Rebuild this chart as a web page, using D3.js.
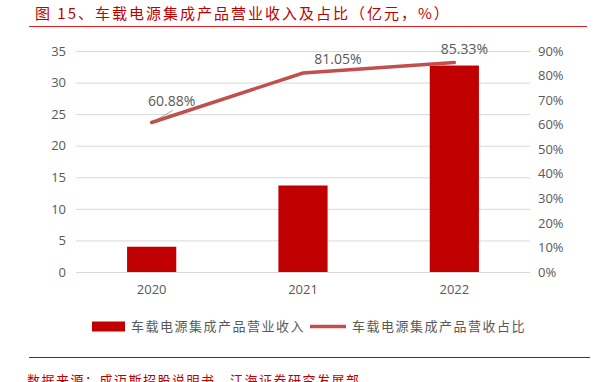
<!DOCTYPE html>
<html>
<head>
<meta charset="utf-8">
<script src="https://cdn.jsdelivr.net/npm/d3@7"></script>
<style>
  body { margin: 0; background: #fff; }
  svg { display: block; font-family: "Noto Sans CJK SC", "Noto Sans", sans-serif; }
</style>
</head>
<body>
<div id="chart"></div>
<script>
const years = ['2020', '2021', '2022'];
const revenue = [4.0, 13.7, 32.7];          // 亿元
const share = [60.88, 81.05, 85.33];        // %
const leftTicks = [0, 5, 10, 15, 20, 25, 30, 35];
const rightTicks = [0, 10, 20, 30, 40, 50, 60, 70, 80, 90];

const width = 594, height = 382;
const margin = { top: 51, right: 64, bottom: 110, left: 76 };
const innerW = width - margin.left - margin.right;
const innerH = height - margin.top - margin.bottom;
const red = '#c00000';
const lineRed = '#c0504d';
const textGray = '#595959';

const svg = d3.select('#chart').append('svg')
  .attr('width', width).attr('height', height);

// title
svg.append('text')
  .attr('x', 35).attr('y', 19)
  .attr('fill', red).attr('font-size', 15).attr('letter-spacing', 2)
  .text('图 15、车载电源集成产品营业收入及占比（亿元，%）');
svg.append('line')
  .attr('x1', 29).attr('x2', 587).attr('y1', 26.5).attr('y2', 26.5)
  .attr('stroke', '#e02020').attr('stroke-width', 1);

const g = svg.append('g').attr('transform', `translate(${margin.left},${margin.top})`);

const x = d3.scaleBand().domain(years).range([0, innerW]).paddingInner(0.675).paddingOuter(0.3375);
const y = d3.scaleLinear().domain([0, 35]).range([innerH, 0]);
const y2 = d3.scaleLinear().domain([0, 90]).range([innerH, 0]);

// gridlines
g.append('g')
  .selectAll('line').data(leftTicks).join('line')
  .attr('x1', 0).attr('x2', innerW)
  .attr('y1', d => y(d) + 0.5).attr('y2', d => y(d) + 0.5)
  .attr('stroke', '#d9d9d9').attr('stroke-width', 1);

// left axis
const yAxisG = g.append('g').attr('transform', 'translate(-10,0)')
  .call(d3.axisLeft(y).tickValues(leftTicks).tickSize(0).tickPadding(0));
yAxisG.select('.domain').remove();
yAxisG.selectAll('text').attr('fill', textGray).attr('font-size', 13)
  .attr('font-family', '"Open Sans", "Noto Sans", sans-serif');

// right axis
const y2AxisG = g.append('g').attr('transform', `translate(${innerW + 8},0)`)
  .call(d3.axisRight(y2).tickValues(rightTicks).tickFormat(d => d + '%').tickSize(0).tickPadding(0));
y2AxisG.select('.domain').remove();
y2AxisG.selectAll('text').attr('fill', textGray).attr('font-size', 13)
  .attr('font-family', '"Open Sans", "Noto Sans", sans-serif');

// x axis labels
const xAxisG = g.append('g').attr('transform', `translate(0,${innerH + 13})`)
  .call(d3.axisBottom(x).tickSize(0).tickPadding(0));
xAxisG.select('.domain').remove();
xAxisG.selectAll('text').attr('fill', textGray).attr('font-size', 13)
  .attr('font-family', '"Open Sans", "Noto Sans", sans-serif');

// bars
g.selectAll('rect.bar').data(years).join('rect')
  .attr('class', 'bar')
  .attr('x', d => x(d))
  .attr('width', x.bandwidth())
  .attr('y', (d, i) => y(revenue[i]))
  .attr('height', (d, i) => innerH - y(revenue[i]))
  .attr('fill', red);

// share line
const cx = d => x(d) + x.bandwidth() / 2;
const linePts = years.map((d, i) => [cx(d), y2(share[i])]);

// leader line for the first label
g.append('line')
  .attr('x1', cx(years[0])).attr('y1', y2(share[0]))
  .attr('x2', cx(years[0]) + 21).attr('y2', y2(share[0]) - 12)
  .attr('stroke', '#a6a6a6').attr('stroke-width', 1);

g.append('path')
  .attr('d', d3.line()(linePts))
  .attr('fill', 'none').attr('stroke', lineRed).attr('stroke-width', 3.5)
  .attr('stroke-linecap', 'round');

const lblDx = [20, 35, 10];
const lblDy = [-17, -9, -8];
g.selectAll('text.lbl').data(years).join('text')
  .attr('class', 'lbl')
  .attr('x', (d, i) => cx(d) + lblDx[i])
  .attr('y', (d, i) => y2(share[i]) + lblDy[i])
  .attr('text-anchor', 'middle')
  .attr('fill', textGray).attr('font-size', 14)
  .attr('font-family', '"Open Sans", "Noto Sans", sans-serif')
  .text((d, i) => share[i].toFixed(2) + '%');

// legend
const lg = svg.append('g').attr('font-size', 13).attr('fill', textGray).attr('letter-spacing', 1.5);
lg.append('rect').attr('x', 92).attr('y', 321.5).attr('width', 33).attr('height', 10).attr('fill', red);
lg.append('text').attr('x', 131).attr('y', 331).text('车载电源集成产品营业收入');
lg.append('line').attr('x1', 310).attr('x2', 346).attr('y1', 326.5).attr('y2', 326.5)
  .attr('stroke', lineRed).attr('stroke-width', 3.5);
lg.append('text').attr('x', 352).attr('y', 331).text('车载电源集成产品营收占比');

// source
svg.append('line')
  .attr('x1', 29).attr('x2', 590).attr('y1', 357.5).attr('y2', 357.5)
  .attr('stroke', '#c00000').attr('stroke-width', 1);
svg.append('text')
  .attr('x', 27).attr('y', 385)
  .attr('fill', red).attr('font-size', 13).attr('letter-spacing', 1.5)
  .text('数据来源：成迈斯招股说明书，江海证券研究发展部');
</script>
</body>
</html>
